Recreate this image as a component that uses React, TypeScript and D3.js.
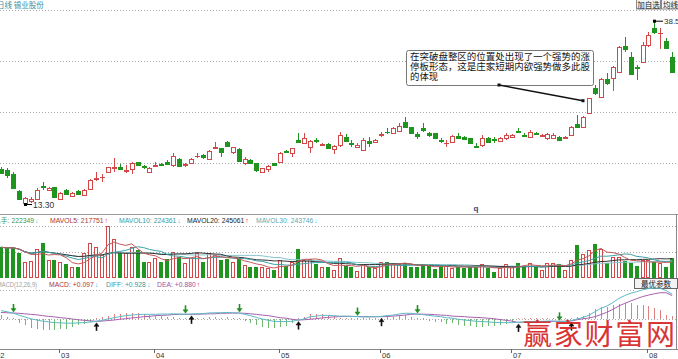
import React from "react";
import * as d3 from "d3";

// ---------- data ----------
const opens = [18.10,18.00,17.45,15.14,13.48,13.71,13.99,15.79,15.23,15.61,13.95,15.23,14.41,15.10,14.59,15.33,16.76,16.99,17.68,18.23,18.45,17.86,18.10,19.06,18.59,17.68,18.55,18.83,19.06,18.69,19.52,18.65,18.92,19.89,20.03,19.48,21.04,21.00,21.91,20.53,20.90,18.92,19.38,18.92,17.76,18.10,18.92,19.15,20.67,20.31,22.14,21.77,21.14,22.14,21.50,21.59,20.86,21.45,22.60,21.77,21.22,20.76,22.05,21.91,22.84,23.29,23.15,23.43,24.59,23.90,22.97,23.84,23.15,23.07,22.10,21.69,21.91,22.74,22.60,22.38,21.36,21.45,22.46,22.24,22.01,22.38,22.60,23.43,22.84,22.52,23.07,22.70,22.46,22.46,22.60,22.38,22.84,24.31,23.98,25.83,29.29,28.05,30.53,30.67,31.58,35.14,33.66,32.19,32.97,35.27,37.58,36.89,35.87,33.57];
const highs = [18.37,18.23,17.76,15.23,14.23,14.23,15.47,16.38,15.61,15.69,15.00,15.33,15.00,15.17,15.33,16.76,17.68,17.45,18.45,19.62,18.79,18.69,19.15,19.15,18.73,18.37,19.15,19.01,19.38,20.31,19.62,18.92,19.62,20.31,20.17,20.76,21.83,21.08,22.01,21.22,21.00,19.84,19.48,19.01,18.32,18.69,19.01,20.53,20.76,21.08,23.07,23.07,22.14,22.38,21.69,21.69,21.45,23.29,22.97,22.14,21.69,22.38,22.60,22.24,23.29,23.76,23.98,24.45,25.28,23.98,23.29,24.45,23.29,23.15,22.38,22.14,22.84,23.07,22.70,22.46,21.69,22.84,22.60,22.60,22.60,23.07,22.97,23.76,23.07,23.53,23.29,22.97,23.15,23.07,22.70,22.70,24.08,25.60,25.46,27.99,29.75,30.67,31.36,32.37,35.14,36.42,34.35,32.51,35.73,37.11,38.50,37.58,36.20,34.35];
const lows = [17.40,16.85,15.47,13.95,13.30,13.44,13.85,15.23,15.10,14.13,13.85,14.54,14.23,14.61,14.41,15.23,16.52,16.38,17.54,17.76,18.00,17.54,17.45,18.59,18.10,17.63,18.45,18.55,18.69,18.45,18.55,18.37,18.83,19.62,19.48,19.38,20.86,19.84,21.22,20.17,19.15,18.69,18.92,17.76,17.68,17.76,18.55,19.06,20.35,19.84,21.87,21.69,20.39,21.77,21.32,20.90,20.17,21.22,21.91,21.22,21.00,20.67,21.22,21.77,22.52,22.97,23.07,23.29,23.76,23.07,22.24,23.29,22.60,22.28,21.77,21.22,21.77,22.28,22.24,21.69,21.00,21.22,21.83,21.77,21.91,22.14,22.38,23.07,22.52,22.38,22.79,22.56,22.14,22.38,22.10,22.28,22.74,23.76,23.90,25.74,28.36,27.91,29.75,28.92,31.50,34.35,31.13,30.44,32.74,35.04,36.79,34.68,34.72,31.36];
const closes = [17.54,17.31,15.55,14.03,14.09,13.95,15.23,15.69,15.47,14.23,14.78,14.68,14.86,14.68,15.23,16.62,16.93,17.07,18.37,18.45,18.14,18.00,18.92,18.69,18.37,18.28,18.69,18.73,18.79,19.93,18.59,18.79,19.52,19.98,19.75,20.62,21.14,20.53,21.32,21.14,19.24,19.48,19.01,18.00,18.23,18.55,18.69,20.39,20.44,21.00,21.91,22.38,22.05,22.05,21.59,21.00,21.32,22.84,22.05,21.59,21.45,22.14,21.69,22.14,22.97,23.21,23.84,24.08,23.90,23.15,22.74,23.53,22.84,22.38,22.01,21.77,22.70,22.38,22.32,21.77,21.22,22.38,21.91,22.14,22.38,22.84,22.84,23.29,22.70,23.21,22.93,22.84,22.97,22.84,22.14,22.60,23.98,23.98,25.36,27.91,28.60,30.58,30.06,32.19,35.04,34.68,31.27,32.10,35.27,36.66,37.11,36.97,34.82,31.58];
const volumes = [342000,330000,337000,279000,169000,187000,319000,394000,196000,196000,169000,150000,118000,118000,273000,388000,348000,253000,587000,434000,273000,273000,342000,311000,176000,176000,215000,169000,204000,291000,233000,158000,215000,273000,176000,279000,253000,196000,207000,176000,215000,138000,112000,112000,112000,100000,81000,196000,127000,176000,319000,196000,204000,146000,118000,112000,81000,222000,127000,112000,69000,146000,112000,100000,169000,176000,150000,150000,158000,112000,112000,150000,127000,89000,127000,127000,107000,118000,100000,112000,118000,146000,100000,54000,100000,150000,112000,158000,127000,158000,118000,81000,164000,164000,150000,81000,196000,368000,265000,311000,380000,319000,158000,233000,233000,187000,158000,127000,196000,196000,176000,158000,112000,222349];
const diffs = [0.32,0.28,0.23,0.15,0.08,0.01,-0.04,-0.08,-0.11,-0.14,-0.15,-0.16,-0.16,-0.15,-0.14,-0.12,-0.09,-0.05,0.00,0.05,0.09,0.13,0.15,0.17,0.18,0.18,0.18,0.19,0.19,0.20,0.19,0.18,0.19,0.20,0.21,0.23,0.24,0.24,0.25,0.24,0.23,0.18,0.13,0.06,0.00,-0.05,-0.09,-0.10,-0.10,-0.09,-0.04,0.00,0.08,0.11,0.14,0.14,0.13,0.11,0.11,0.10,0.09,0.08,0.08,0.09,0.10,0.13,0.15,0.19,0.22,0.22,0.19,0.17,0.14,0.11,0.09,0.05,0.03,-0.01,-0.04,-0.06,-0.09,-0.10,-0.11,-0.13,-0.14,-0.14,-0.14,-0.13,-0.11,-0.10,-0.09,-0.09,-0.08,-0.08,-0.09,-0.095,-0.06,0.00,0.06,0.15,0.28,0.41,0.50,0.63,0.79,0.90,0.99,1.05,1.12,1.17,1.19,1.18,1.09,0.95];
const deas = [0.25,0.24,0.23,0.22,0.20,0.18,0.16,0.13,0.10,0.08,0.05,0.03,0.00,-0.03,-0.05,-0.07,-0.09,-0.08,-0.06,-0.04,-0.01,0.01,0.04,0.06,0.09,0.10,0.13,0.14,0.15,0.17,0.18,0.18,0.18,0.185,0.19,0.20,0.20,0.22,0.22,0.23,0.23,0.22,0.20,0.18,0.15,0.13,0.09,0.05,0.03,-0.01,-0.04,-0.03,-0.01,0.01,0.04,0.06,0.08,0.09,0.10,0.10,0.095,0.09,0.088,0.088,0.09,0.095,0.11,0.13,0.15,0.18,0.19,0.185,0.18,0.17,0.15,0.14,0.11,0.10,0.09,0.07,0.06,0.05,0.03,0.01,-0.02,-0.05,-0.08,-0.13,-0.12,-0.115,-0.11,-0.10,-0.095,-0.09,-0.09,-0.085,-0.08,-0.03,0.01,0.04,0.09,0.17,0.26,0.37,0.50,0.60,0.69,0.78,0.86,0.92,0.97,1.01,1.01,0.90];
const deathCross = [3, 32, 41, 61, 71, 95];
const goldenCross = [17, 33, 51, 65, 88, 97];
const monthTickCandles = [0, 11, 27, 48, 65, 87, 110];
const monthLabels = ["02", "03", "04", "05", "06", "07", "08"];
const volHeaderLabels = ["总手", "MAVOL5", "MAVOL10", "MAVOL20", "MAVOL30"];
const volHeaderValues = ["222349", "217751", "224361", "245061", "243746"];
const volHeaderUp = [false, true, false, true, false];
const macdHeaderLabels = ["MACD", "DIFF", "DEA"];
const macdHeaderValues = ["+0.097", "+0.928", "+0.880"];
const macdHeaderUp = [false, false, true];
const noteLines = ["在突破盘整区的位置处出现了一个强势的涨", "停板形态，这是庄家短期内欲强势做多此股", "的体现"];
const titleText = "日线  锡业股份";
const highLabel = "38.5";
const lowLabel = "13.30";

const RED = "#d24848";
const GREEN = "#1f941f";
const FONT = "'Liberation Sans', Arial, 'Noto Sans CJK SC', sans-serif";
const CJK = "'Noto Sans CJK SC', sans-serif";

export default function App() {
  const xs = d3.scaleLinear().domain([1, 114]).range([1, 672.2]);
  const cx = (i: number) => Math.round(xs(i));
  const yP = d3.scaleLinear().domain([13.3, 38.5]).range([204, 21.7]);
  const yV = d3.scaleLinear().domain([0, 587000]).range([277, 226]);
  const yM = d3.scaleLinear().domain([0, 1]).range([319, 293]);

  const ma = (len: number) =>
    volumes.map((_, k) => d3.mean(volumes.slice(Math.max(0, k - len + 1), k + 1)) as number);
  const maLine = d3.line<number>().x((_, k) => xs(k + 1)).y((v) => yV(v));
  const mLine = d3.line<number>().x((_, k) => xs(k + 1)).y((v) => yM(v));
  const vols = [
    { d: ma(30), c: "#86c4cc" },
    { d: ma(20), c: "#333333" },
    { d: ma(10), c: "#3aa2aa" },
    { d: ma(5), c: "#c45858" },
  ];
  const hist = diffs.map((d, k) => 2 * (d - deas[k]));

  const idxHigh = highs.indexOf(d3.max(highs) as number);
  const idxLow = lows.indexOf(d3.min(lows) as number);

  const volXs = [-6, 50, 119, 187, 256];
  const volCols = ["#3a9a5a", "#a83838", "#3a9aa0", "#222", "#5aaab0"];
  const macdXs = [49, 106, 157];
  const macdCols = ["#b03838", "#3a9aa0", "#a050a0"];

  return (
    <svg width={678} height={359} style={{ position: "absolute", left: 0, top: 0, background: "#fff" }} fontFamily={FONT}>
      <rect x={0} y={0} width={678} height={359} fill="#fff" />
      {/* title */}
      <text x={-3} y={7.5} fontSize={7.5} fill="#3a8ea0" fontFamily={CJK}>{titleText}</text>
      {/* top buttons */}
      <rect x={636.5} y={-0.5} width={24} height={9.5} fill="#f3f3f3" stroke="#888" />
      <text x={648.5} y={7.5} fontSize={7.5} textAnchor="middle" fill="#222" fontFamily={CJK}>加自选</text>
      <rect x={661.5} y={-0.5} width={20} height={9.5} fill="#f3f3f3" stroke="#888" />
      <text x={663} y={7.5} fontSize={7.5} fill="#222" fontFamily={CJK}>均线</text>

      {/* main grid */}
      {[10, 61, 112, 163].map((y) => (
        <line key={y} x1={0} x2={678} y1={y + 0.5} y2={y + 0.5} stroke="#aaa" strokeDasharray="1,2" />
      ))}
      <line x1={0} x2={678} y1={214.5} y2={214.5} stroke="#999" />

      {/* candles */}
      <g shapeRendering="crispEdges">
        {closes.map((c, k) => {
          const o = opens[k];
          const up = c >= o;
          const col = up ? RED : GREEN;
          const px = cx(k + 1);
          const yt = Math.round(yP(Math.max(o, c)));
          const yb = Math.round(yP(Math.min(o, c)));
          const yh = Math.round(yP(highs[k]));
          const yl = Math.round(yP(lows[k]));
          return (
            <g key={k}>
              <line x1={px + 0.5} x2={px + 0.5} y1={yh} y2={yt} stroke={col} />
              <line x1={px + 0.5} x2={px + 0.5} y1={yb} y2={yl} stroke={col} />
              {yb - yt >= 1 ? (
                <rect x={px - 1.5} y={yt + 0.5} width={4} height={yb - yt} fill={up ? "#fff" : col} stroke={col} />
              ) : (
                <line x1={px - 2} x2={px + 3} y1={yt + 0.5} y2={yt + 0.5} stroke={col} />
              )}
            </g>
          );
        })}
      </g>

      {/* high / low labels */}
      <rect x={cx(idxHigh + 1) - 1} y={yP(highs[idxHigh]) - 2} width={3} height={3} fill="#000" />
      <line x1={cx(idxHigh + 1)} x2={cx(idxHigh + 1) + 9} y1={yP(highs[idxHigh]) - 0.5} y2={yP(highs[idxHigh]) - 0.5} stroke="#000" />
      <text x={cx(idxHigh + 1) + 10} y={yP(highs[idxHigh]) + 2.5} fontSize={8} fill="#333">{highLabel}</text>
      <rect x={cx(idxLow + 1) - 1} y={yP(lows[idxLow]) - 1} width={3} height={3} fill="#000" />
      <line x1={cx(idxLow + 1)} x2={cx(idxLow + 1) + 7} y1={yP(lows[idxLow]) + 0.5} y2={yP(lows[idxLow]) + 0.5} stroke="#000" />
      <text x={cx(idxLow + 1) + 8} y={yP(lows[idxLow]) + 3.5} fontSize={8.5} fill="#333">{lowLabel}</text>

      {/* annotation */}
      <rect x={406.5} y={50.5} width={187} height={35} rx={2} fill="#fff" stroke="#777" />
      {noteLines.map((t, k) => (
        <text key={k} x={410} y={60 + k * 10} fontSize={9.4} fill="#111" fontFamily={CJK}
          {...(t.length > 10 ? { textLength: 180, lengthAdjust: "spacingAndGlyphs" } : {})}>{t}</text>
      ))}
      <line x1={499} y1={85} x2={cx(100) - 6} y2={yP(highs[99]) + 3} stroke="#111" strokeWidth={1.4} />
      <rect x={497.5} y={83.5} width={3} height={3} fill="#111" />
      <rect x={cx(100) - 7.5} y={yP(highs[99]) + 1.5} width={3} height={3} fill="#111" />
      <text x={cx(81)} y={211} fontSize={8} fontWeight="bold" fill="#2a4a7a" textAnchor="middle">q</text>

      {/* volume panel */}
      {[226, 252].map((y) => (
        <line key={y} x1={0} x2={678} y1={y + 0.5} y2={y + 0.5} stroke="#aaa" strokeDasharray="1,2" />
      ))}
      {volHeaderLabels.map((l, k) => (
        <text key={l} x={volXs[k]} y={223} fontSize={6.8} fill={volCols[k]}>
          {l}: {volHeaderValues[k]}
          <tspan dx={1} fill={volHeaderUp[k] ? "#e02020" : "#30c0e0"}>{volHeaderUp[k] ? "↑" : "↓"}</tspan>
        </text>
      ))}
      <g shapeRendering="crispEdges">
        {volumes.map((v, k) => {
          const up = closes[k] >= opens[k];
          const col = up ? RED : GREEN;
          const px = cx(k + 1);
          const yt = Math.round(yV(v));
          return <rect key={k} x={px - 1.5} y={yt + 0.5} width={3} height={277 - yt} fill={up ? "#fff" : col} stroke={col} />;
        })}
      </g>
      {vols.map((m, k) => (
        <path key={k} d={maLine(m.d) || ""} fill="none" stroke={m.c} strokeWidth={1} />
      ))}
      <line x1={676.5} x2={676.5} y1={214} y2={349} stroke="#888" />

      {/* MACD panel */}
      <text x={-3} y={286.5} fontSize={6.8} fill="#a0a0a0" textLength={40} lengthAdjust="spacingAndGlyphs">MACD(12,26,9)</text>
      {macdHeaderLabels.map((l, k) => (
        <text key={l} x={macdXs[k]} y={286.5} fontSize={6.8} fill={macdCols[k]}>
          {l}: {macdHeaderValues[k]}
          <tspan dx={1} fill={macdHeaderUp[k] ? "#e02020" : "#30c0e0"}>{macdHeaderUp[k] ? "↑" : "↓"}</tspan>
        </text>
      ))}
      <rect x={634.5} y={278.5} width={43} height={10} fill="#f3f3f3" stroke="#666" />
      <text x={656} y={286.5} fontSize={7.5} textAnchor="middle" fill="#222" fontFamily={CJK}>最优参数</text>
      <line x1={0} x2={634} y1={290.5} y2={290.5} stroke="#aaa" strokeDasharray="1,2" />
      <line x1={0} x2={678} y1={319.5} y2={319.5} stroke="#aaa" strokeDasharray="1,2" />
      <g shapeRendering="crispEdges">
        {hist.map((h, k) => (
          <line key={k} x1={cx(k + 1) + 0.5} x2={cx(k + 1) + 0.5} y1={yM(0)} y2={Math.abs(yM(h) - yM(0)) < 1 ? yM(0) - 1 : yM(h)}
            stroke={h >= 0 ? "#e08080" : "#70b870"} />
        ))}
      </g>
      <path d={mLine(deas) || ""} fill="none" stroke="#a860b0" strokeWidth={1} />
      <path d={mLine(diffs) || ""} fill="none" stroke="#5cbac6" strokeWidth={1} />
      {deathCross.map((i) => {
        const px = cx(i) + 0.5;
        const tip = yM(Math.max(diffs[i - 1], deas[i - 1])) - 1;
        return (
          <g key={"d" + i} fill="#1f8f1f" stroke="#1f8f1f">
            <line x1={px} x2={px} y1={tip - 8} y2={tip - 3} strokeWidth={1.6} />
            <path d={`M${px - 2.5},${tip - 3.5}L${px + 2.5},${tip - 3.5}L${px},${tip}Z`} strokeWidth={0.5} />
          </g>
        );
      })}
      {goldenCross.map((i) => {
        const px = cx(i) + 0.5;
        const tip = yM(Math.min(diffs[i - 1], deas[i - 1])) + 1.5;
        return (
          <g key={"g" + i} fill="#111" stroke="#111">
            <line x1={px} x2={px} y1={tip + 3} y2={tip + 8} strokeWidth={1.6} />
            <path d={`M${px - 2.5},${tip + 3.5}L${px + 2.5},${tip + 3.5}L${px},${tip}Z`} strokeWidth={0.5} />
          </g>
        );
      })}

      {/* x axis */}
      <line x1={0} x2={678} y1={349.5} y2={349.5} stroke="#888" />
      {monthTickCandles.map((i, k) => {
        const px = Math.round(xs(i)) - 1;
        return (
          <g key={k}>
            <line x1={px + 0.5} x2={px + 0.5} y1={349} y2={353} stroke="#666" />
            <text x={px + 2} y={357.5} fontSize={7.5} fill="#333">{monthLabels[k]}</text>
          </g>
        );
      })}

      {/* watermark */}
      <text x={523} y={345} fontSize={29} fill="#d62020" fontFamily={CJK} textLength={152} lengthAdjust="spacing" opacity={0.9}>赢家财富网</text>
    </svg>
  );
}
